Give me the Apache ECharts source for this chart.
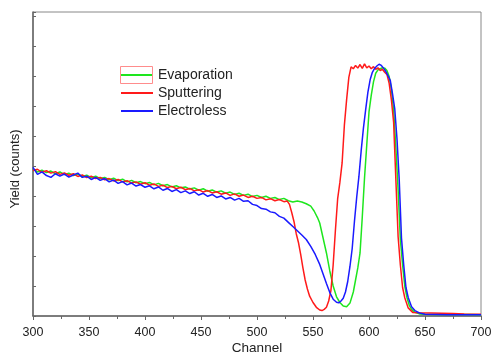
<!DOCTYPE html>
<html>
<head>
<meta charset="utf-8">
<script src="https://cdn.jsdelivr.net/npm/echarts@6/dist/echarts.min.js"></script>
<style>html,body{margin:0;padding:0;background:#fff}#c{width:491px;height:354px}</style>
</head>
<body>
<div id="c"></div>
<script>
// Plateau values, channels 300, 304, ... 524
const plateauStart = 300;
const plateauStep = 4;
const greenPlateau = [4.90,4.80,4.86,4.78,4.83,4.74,4.80,4.71,4.76,4.68,4.73,4.65,4.69,4.61,4.66,4.58,4.62,4.54,4.59,4.51,4.56,4.47,4.52,4.44,4.48,4.41,4.45,4.37,4.42,4.34,4.38,4.30,4.34,4.27,4.30,4.23,4.27,4.19,4.24,4.16,4.20,4.13,4.17,4.09,4.13,4.05,4.09,4.02,4.06,3.98,4.02,3.95,3.99,3.92,3.95,3.88,3.92];
const redPlateau = [4.85,4.89,4.79,4.84,4.76,4.81,4.72,4.77,4.69,4.74,4.65,4.70,4.61,4.66,4.58,4.62,4.54,4.58,4.50,4.55,4.47,4.51,4.43,4.47,4.39,4.44,4.36,4.40,4.32,4.36,4.28,4.32,4.24,4.29,4.21,4.25,4.17,4.21,4.13,4.18,4.10,4.14,4.06,4.10,4.02,4.07,3.99,4.03,3.95,3.99,3.92,3.95,3.87,3.91,3.84,3.88,3.81];
const bluePlateau = [4.95,4.72,4.80,4.68,4.62,4.74,4.66,4.73,4.63,4.70,4.76,4.62,4.66,4.55,4.62,4.52,4.58,4.47,4.53,4.42,4.48,4.37,4.43,4.33,4.38,4.29,4.34,4.24,4.30,4.19,4.25,4.15,4.21,4.11,4.17,4.08,4.14,4.03,4.09,3.99,4.05,3.95,4.00,3.90,3.95,3.86,3.92,3.82,3.84,3.72,3.68,3.58,3.56,3.47,3.44,3.32,3.26];

// Edge / peak region: [channel, yield]
const greenEdge = [[528,3.84],[532,3.80],[536,3.83],[540,3.80],[544,3.74],[548,3.66],[551,3.50],[554,3.28],[556,3.10],[559,2.60],[562,2.10],[565,1.50],[568,1.00],[571,0.64],[574,0.45],[577,0.33],[580,0.31],[583,0.43],[586,0.80],[588,1.20],[590,1.60],[592,2.10],[594,3.30],[596,4.60],[598,5.70],[600,6.80],[602,7.35],[604,7.80],[606,8.09],[608,8.20],[610,8.24],[612,8.27],[614,8.26],[616,8.18],[618,7.98],[620,7.55],[622,6.87],[624,5.60],[626,4.20],[628,2.55],[630,1.70],[632,0.98],[634,0.60],[636,0.35],[638,0.22],[641,0.12],[645,0.07],[650,0.06],[660,0.05],[670,0.06],[680,0.05],[690,0.05],[700,0.04]];
const redEdge = [[527,3.83],[529,3.72],[531,3.45],[533,3.15],[535,2.75],[537,2.45],[539,2.05],[541,1.60],[543,1.20],[545,0.90],[547,0.66],[550,0.45],[553,0.29],[556,0.20],[558,0.18],[560,0.22],[562,0.29],[564,0.50],[566,0.85],[568,1.70],[570,2.85],[572,3.90],[574,4.45],[576,5.10],[578,6.35],[580,7.20],[582,7.95],[584,8.30],[586,8.24],[588,8.35],[590,8.26],[592,8.38],[594,8.25],[596,8.40],[598,8.27],[600,8.33],[602,8.24],[604,8.31],[606,8.22],[608,8.27],[610,8.18],[612,8.22],[614,8.12],[616,8.05],[618,7.75],[620,7.20],[622,6.45],[624,4.53],[626,2.64],[628,1.70],[630,0.95],[632,0.60],[635,0.27],[639,0.12],[645,0.11],[655,0.10],[665,0.09],[675,0.08],[685,0.07],[700,0.06]];
const blueEdge = [[528,3.12],[532,2.98],[536,2.84],[540,2.70],[544,2.55],[548,2.32],[552,2.05],[556,1.72],[559,1.40],[562,1.08],[565,0.78],[568,0.56],[571,0.46],[573,0.44],[575,0.50],[577,0.59],[579,0.80],[581,1.15],[583,1.65],[585,2.25],[587,3.15],[589,3.95],[591,4.65],[593,5.50],[595,6.25],[597,6.87],[599,7.45],[601,7.87],[603,8.12],[605,8.25],[607,8.33],[609,8.39],[611,8.35],[613,8.26],[615,8.15],[617,8.00],[619,7.85],[621,7.40],[623,6.90],[625,5.90],[627,4.53],[629,2.60],[631,1.70],[633,0.95],[635,0.62],[638,0.31],[641,0.18],[645,0.10],[650,0.06],[660,0.05],[670,0.04],[680,0.04],[690,0.04],[700,0.04]];

const seriesNames = ['Evaporation','Sputtering','Electroless'];
const seriesColors = ['#1ee61e','#ff1a1a','#1a1aff'];
const xTicks = [300,350,400,450,500,550,600,650,700];
const yAxisTitle = 'Yield (counts)';
const xAxisTitle = 'Channel';

function build(plateau, edge) {
  const pts = plateau.map((v, i) => [plateauStart + i * plateauStep, v]);
  return pts.concat(edge);
}
const allData = [build(greenPlateau, greenEdge), build(redPlateau, redEdge), build(bluePlateau, blueEdge)];

const chart = echarts.init(document.getElementById('c'), null, {renderer: 'canvas'});
const font = 'Liberation Sans, Arial, sans-serif';
chart.setOption({
  animation: false,
  backgroundColor: '#fff',
  grid: {left: 33, right: 10, top: 12, bottom: 38, show: true, borderColor: '#888', borderWidth: 1, outerBoundsMode: 'none', containLabel: false},
  legend: {
    orient: 'vertical', left: 121, top: 68, padding: 0, itemWidth: 32, itemHeight: 2, itemGap: 4,
    icon: 'rect',
    textStyle: {fontFamily: font, fontSize: 14, color: '#222'},
    data: seriesNames.map((n, i) => ({name: n, icon: 'rect', itemStyle: {color: seriesColors[i]}}))
  },
  graphic: [
    {type: 'rect', shape: {x: 120.5, y: 66.5, width: 32, height: 17}, style: {fill: 'none', stroke: '#ff8c8c', lineWidth: 1}, z: 100},
    {type: 'text', x: 15, y: 169, rotation: Math.PI / 2, style: {text: yAxisTitle, font: '13px ' + font, fill: '#222', align: 'center', verticalAlign: 'middle'}}
  ],
  xAxis: {
    type: 'value', min: xTicks[0], max: xTicks[xTicks.length - 1], interval: 50,
    name: xAxisTitle, nameLocation: 'middle', nameGap: 25, nameMoveOverlap: false,
    nameTextStyle: {fontFamily: font, fontSize: 13.5, color: '#222'},
    axisLine: {lineStyle: {color: '#666', width: 1.5}},
    axisTick: {inside: false, length: 4, lineStyle: {color: '#666'}},
    minorTick: {show: true, splitNumber: 2, length: 3, lineStyle: {color: '#666'}},
    axisLabel: {fontFamily: font, fontSize: 12.5, color: '#222', margin: 10},
    splitLine: {show: false}
  },
  yAxis: {
    type: 'value', min: 0, max: 10.13, interval: 1,
    axisLine: {show: true, lineStyle: {color: '#666', width: 1.5}},
    axisTick: {show: true, inside: true, length: 3, lineStyle: {color: '#666'}},
    axisLabel: {show: false},
    splitLine: {show: false}
  },
  series: allData.map((d, i) => ({
    name: seriesNames[i], type: 'line', data: d, symbol: 'none', showSymbol: false,
    lineStyle: {color: seriesColors[i], width: 1.5}, itemStyle: {color: seriesColors[i]}
  }))
});
</script>
</body>
</html>
